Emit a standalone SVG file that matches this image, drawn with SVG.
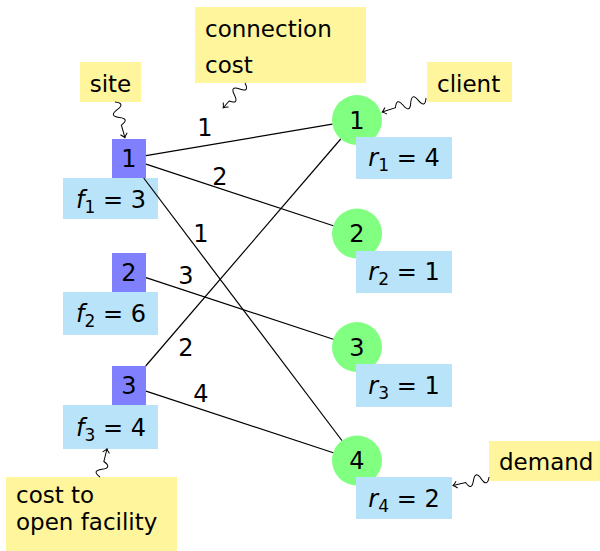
<svg xmlns="http://www.w3.org/2000/svg" width="600" height="551" viewBox="0 0 600 551">
<style>
text{font-family:"DejaVu Sans","Liberation Sans",sans-serif;font-size:23px;fill:#000}
.num{font-size:24px}
.fac{fill:#8080ff}
.cli{fill:#80ff80}
.lab{fill:#b9e3f8}
.note{fill:#fff59d}
.edge{stroke:#000;stroke-width:1.2;fill:none}
.snake{stroke:#000;stroke-width:1;fill:none;marker-end:url(#arr)}
.it{font-style:italic}
.sub{font-size:17px}
.mid{text-anchor:middle}
</style>
<defs>
<marker id="arr" markerUnits="userSpaceOnUse" markerWidth="12" markerHeight="12" viewBox="-6 -6 12 12" refX="0" refY="0" orient="auto">
<path d="M-4,-3.5 Q-1.2,-0.6 0,0 Q-1.2,0.6 -4,3.5" stroke="#000" stroke-width="1" fill="none"/>
</marker>
</defs>

<g id="facility1">
<rect class="fac" x="112" y="139" width="34" height="39"/>
<text class="mid num" x="129" y="167">1</text>
<rect class="lab" x="63" y="178" width="95" height="41"/>
<text class="mid num" x="111" y="208"><tspan class="it">f</tspan><tspan class="sub" dy="5">1</tspan><tspan dy="-5"> = 3</tspan></text>
</g>
<g id="facility2">
<rect class="fac" x="112" y="253" width="34" height="39"/>
<text class="mid num" x="129" y="280.5">2</text>
<rect class="lab" x="63" y="292" width="95" height="43"/>
<text class="mid num" x="111" y="322"><tspan class="it">f</tspan><tspan class="sub" dy="5">2</tspan><tspan dy="-5"> = 6</tspan></text>
</g>
<g id="facility3">
<rect class="fac" x="112" y="366" width="34" height="39"/>
<text class="mid num" x="129" y="394">3</text>
<rect class="lab" x="63" y="405" width="95" height="44"/>
<text class="mid num" x="111" y="436"><tspan class="it">f</tspan><tspan class="sub" dy="5">3</tspan><tspan dy="-5"> = 4</tspan></text>
</g>

<g id="client1">
<circle class="cli" cx="357" cy="120" r="25"/>
<text class="mid num" x="357" y="128.5">1</text>
<rect class="lab" x="356" y="137" width="96" height="42"/>
<text class="mid num" x="404" y="166"><tspan class="it">r</tspan><tspan class="sub" dy="5">1</tspan><tspan dy="-5"> = 4</tspan></text>
</g>
<g id="client2">
<circle class="cli" cx="357" cy="233.5" r="25"/>
<text class="mid num" x="357" y="242">2</text>
<rect class="lab" x="356" y="251" width="96" height="42"/>
<text class="mid num" x="404" y="280"><tspan class="it">r</tspan><tspan class="sub" dy="5">2</tspan><tspan dy="-5"> = 1</tspan></text>
</g>
<g id="client3">
<circle class="cli" cx="357" cy="347" r="25"/>
<text class="mid num" x="357" y="355.5">3</text>
<rect class="lab" x="356" y="364" width="96" height="43"/>
<text class="mid num" x="404" y="393.5"><tspan class="it">r</tspan><tspan class="sub" dy="5">3</tspan><tspan dy="-5"> = 1</tspan></text>
</g>
<g id="client4">
<circle class="cli" cx="357" cy="460.5" r="25"/>
<text class="mid num" x="357" y="469">4</text>
<rect class="lab" x="356" y="477" width="96" height="42"/>
<text class="mid num" x="404" y="506.5"><tspan class="it">r</tspan><tspan class="sub" dy="5">4</tspan><tspan dy="-5"> = 2</tspan></text>
</g>

<g id="connectors">
<line class="edge" x1="146" y1="155.6" x2="332.3" y2="124.2"/>
<line class="edge" x1="146" y1="164.1" x2="333.3" y2="225.7"/>
<line class="edge" x1="143.7" y1="178" x2="341.9" y2="440.5"/>
<line class="edge" x1="146" y1="277.6" x2="333.3" y2="339.2"/>
<line class="edge" x1="145.7" y1="366" x2="340.7" y2="139"/>
<line class="edge" x1="146" y1="391.1" x2="333.3" y2="452.7"/>
<text class="mid num" x="205" y="136">1</text>
<text class="mid num" x="220" y="185">2</text>
<text class="mid num" x="201" y="242">1</text>
<text class="mid num" x="186" y="284">3</text>
<text class="mid num" x="186" y="356">2</text>
<text class="mid num" x="201" y="402">4</text>
</g>

<g id="note-site">
<rect class="note" x="80" y="62" width="61" height="40"/>
<text class="mid" x="110.5" y="91.5">site</text>
<path class="snake" transform="translate(115,102) rotate(74.5)" d="M0,0 Q4,-10 8,0 T16,0 T24,0 L37,0"/>
</g>
<g id="note-connection-cost">
<rect class="note" x="195" y="7" width="171" height="76"/>
<text x="205" y="36.5">connection</text>
<text x="205" y="72.5">cost</text>
<path class="snake" transform="translate(245,83) rotate(131.3)" d="M0,0 Q4,-10 8,0 T16,0 T24,0 L33,0"/>
</g>
<g id="note-client">
<rect class="note" x="427" y="62" width="85" height="40"/>
<text x="437" y="91.5">client</text>
<path class="snake" transform="translate(426,98) rotate(162.3)" d="M0,0 Q4,-10 8,0 T16,0 T24,0 T32,0 L46,0"/>
</g>
<g id="note-demand">
<rect class="note" x="489" y="441" width="111" height="40"/>
<text x="499" y="470">demand</text>
<path class="snake" transform="translate(489,477) rotate(166.7)" d="M0,0 Q4,-10 8,0 T16,0 T24,0 L37,0"/>
</g>
<g id="note-open-cost">
<rect class="note" x="6" y="477" width="171" height="74"/>
<text x="16" y="503">cost to</text>
<text x="16" y="530">open facility</text>
<path class="snake" transform="translate(100,477) rotate(-76)" d="M0,0 Q4,-10 8,0 T16,0 L29,0"/>
</g>
</svg>
